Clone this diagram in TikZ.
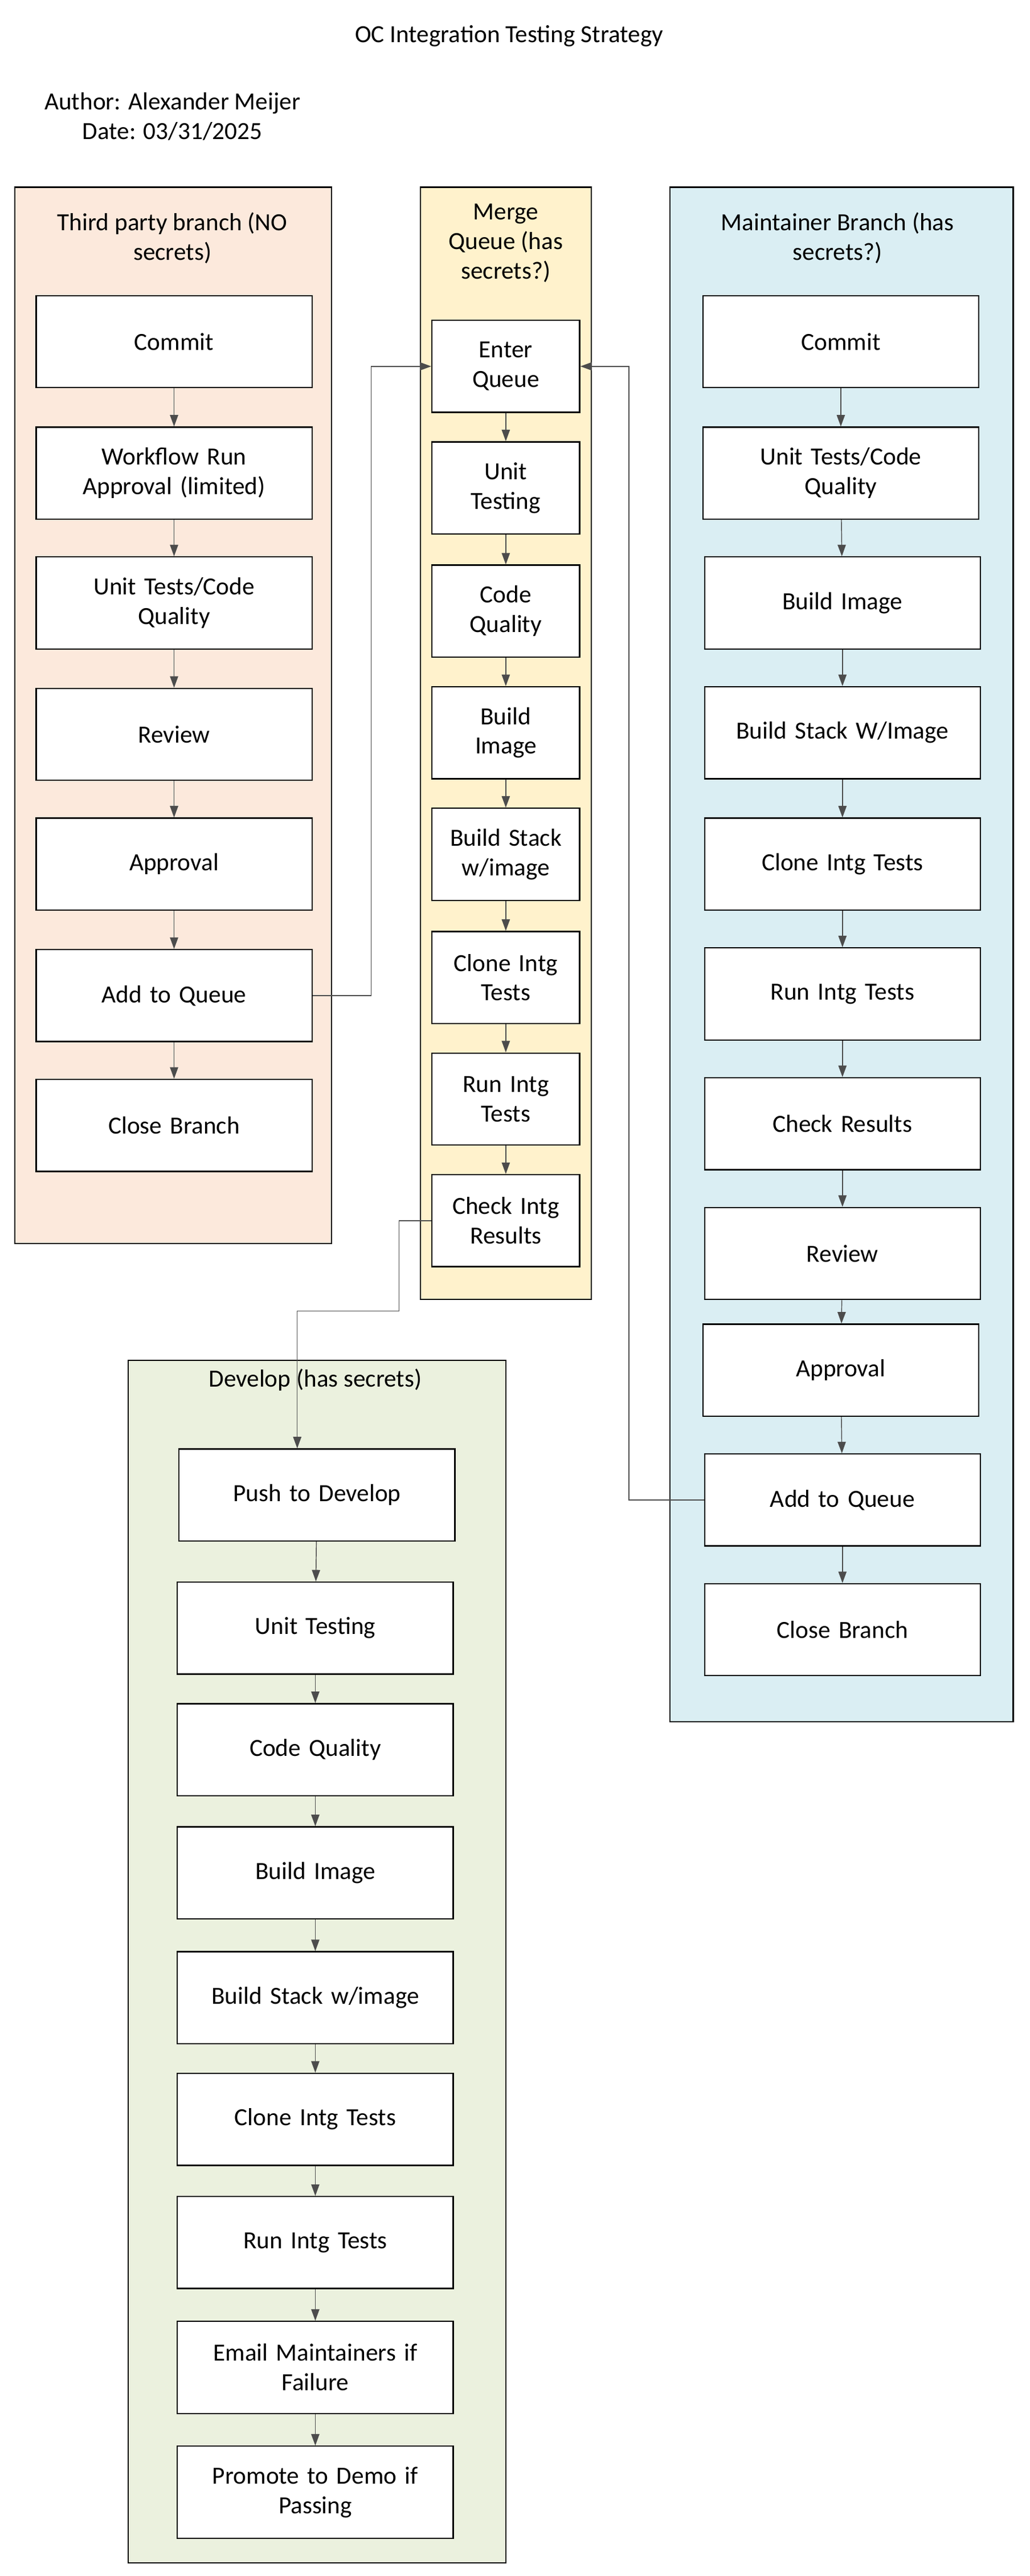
\documentclass[tikz,border=0pt]{standalone}
\usepackage{fontspec}
\setmainfont{Carlito}
\usetikzlibrary{arrows.meta}
\begin{document}
\begin{tikzpicture}[x=1pt,y=-1pt,
  lane/.style={draw=black,line width=0.8pt},
  box/.style={draw=black,line width=0.8pt,fill=white,minimum height=56pt,align=center,font=\fontsize{15}{18}\selectfont,inner sep=2pt},
  wbox/.style={box,minimum width=168pt,text width=160pt},
  nbox/.style={box,minimum width=90pt,text width=86pt},
  txt/.style={align=center,font=\fontsize{15}{18}\selectfont},
  flow/.style={draw=black!70,line width=0.5pt,-{Triangle[length=7pt,width=5pt]}}]
\useasboundingbox (0,0) rectangle (627,1568);
\fill[white] (0,0) rectangle (627,1568);
\node[txt] (title) at (310,22) {OC Integration Testing Strategy};
\node[txt] (author) at (105,71) {Author: Alexander Meijer\\Date: 03/31/2025};
% lanes
\draw[lane,fill={rgb,255:red,252;green,233;blue,220}] (9,114) rectangle (202,757);
\draw[lane,fill={rgb,255:red,255;green,242;blue,204}] (256,114) rectangle (360,791);
\draw[lane,fill={rgb,255:red,218;green,238;blue,243}] (408,114) rectangle (617,1048);
\draw[lane,fill={rgb,255:red,235;green,241;blue,222}] (78,828) rectangle (308,1560);
\node[txt] (tl) at (105,145) {Third party branch (NO\\secrets)};
\node[txt] (ml) at (308,148) {Merge\\Queue (has\\secrets?)};
\node[txt] (rl) at (510,145) {Maintainer Branch (has\\secrets?)};
\node[txt] (dl) at (192,840) {Develop (has secrets)};
% third party
\node[wbox] (a1) at (106,208) {Commit};
\node[wbox] (a2) at (106,288) {Workflow Run\\Approval (limited)};
\node[wbox] (a3) at (106,367) {Unit Tests/Code\\Quality};
\node[wbox] (a4) at (106,447) {Review};
\node[wbox] (a5) at (106,526) {Approval};
\node[wbox] (a6) at (106,606) {Add to Queue};
\node[wbox] (a7) at (106,685) {Close Branch};
% merge
\node[nbox] (m1) at (308,223) {Enter\\Queue};
\node[nbox] (m2) at (308,297) {Unit\\Testing};
\node[nbox] (m3) at (308,372) {Code\\Quality};
\node[nbox] (m4) at (308,446) {Build\\Image};
\node[nbox] (m5) at (308,520) {Build Stack\\w/image};
\node[nbox] (m6) at (308,595) {Clone Intg\\Tests};
\node[nbox] (m7) at (308,669) {Run Intg\\Tests};
\node[nbox] (m8) at (308,743) {Check Intg\\Results};
% maintainer
\node[wbox] (b1) at (512,208) {Commit};
\node[wbox] (b2) at (512,288) {Unit Tests/Code\\Quality};
\node[wbox] (b3) at (513,367) {Build Image};
\node[wbox] (b4) at (513,446) {Build Stack W/Image};
\node[wbox] (b5) at (513,526) {Clone Intg Tests};
\node[wbox] (b6) at (513,605) {Run Intg Tests};
\node[wbox] (b7) at (513,684) {Check Results};
\node[wbox] (b8) at (513,763) {Review};
\node[wbox] (b9) at (512,834) {Approval};
\node[wbox] (b10) at (513,913) {Add to Queue};
\node[wbox] (b11) at (513,992) {Close Branch};
% develop
\node[wbox] (d1) at (193,910) {Push to Develop};
\node[wbox] (d2) at (192,991) {Unit Testing};
\node[wbox] (d3) at (192,1065) {Code Quality};
\node[wbox] (d4) at (192,1140) {Build Image};
\node[wbox] (d5) at (192,1216) {Build Stack w/image};
\node[wbox] (d6) at (192,1290) {Clone Intg Tests};
\node[wbox] (d7) at (192,1365) {Run Intg Tests};
\node[wbox] (d8) at (192,1441) {Email Maintainers if\\Failure};
\node[wbox] (d9) at (192,1517) {Promote to Demo if\\Passing};
% flows
\foreach \p/\q in {a1/a2,a2/a3,a3/a4,a4/a5,a5/a6,a6/a7,
  m1/m2,m2/m3,m3/m4,m4/m5,m5/m6,m6/m7,m7/m8,
  b1/b2,b2/b3,b3/b4,b4/b5,b5/b6,b6/b7,b7/b8,b8/b9,b9/b10,b10/b11,
  d1/d2,d2/d3,d3/d4,d4/d5,d5/d6,d6/d7,d7/d8,d8/d9}
  \draw[flow] (\p) -- (\q);
\draw[flow] (a6.east) -- (226,606) |- (m1.west);
\draw[flow] (b10.west) -- (383,913) |- (m1.east);
\coordinate (c1) at (243,743);
\coordinate (c2) at (181,798);
\draw[flow] (m8.west) -- (c1) |- (c2) -- (c2 |- d1.north);
\end{tikzpicture}
\end{document}
